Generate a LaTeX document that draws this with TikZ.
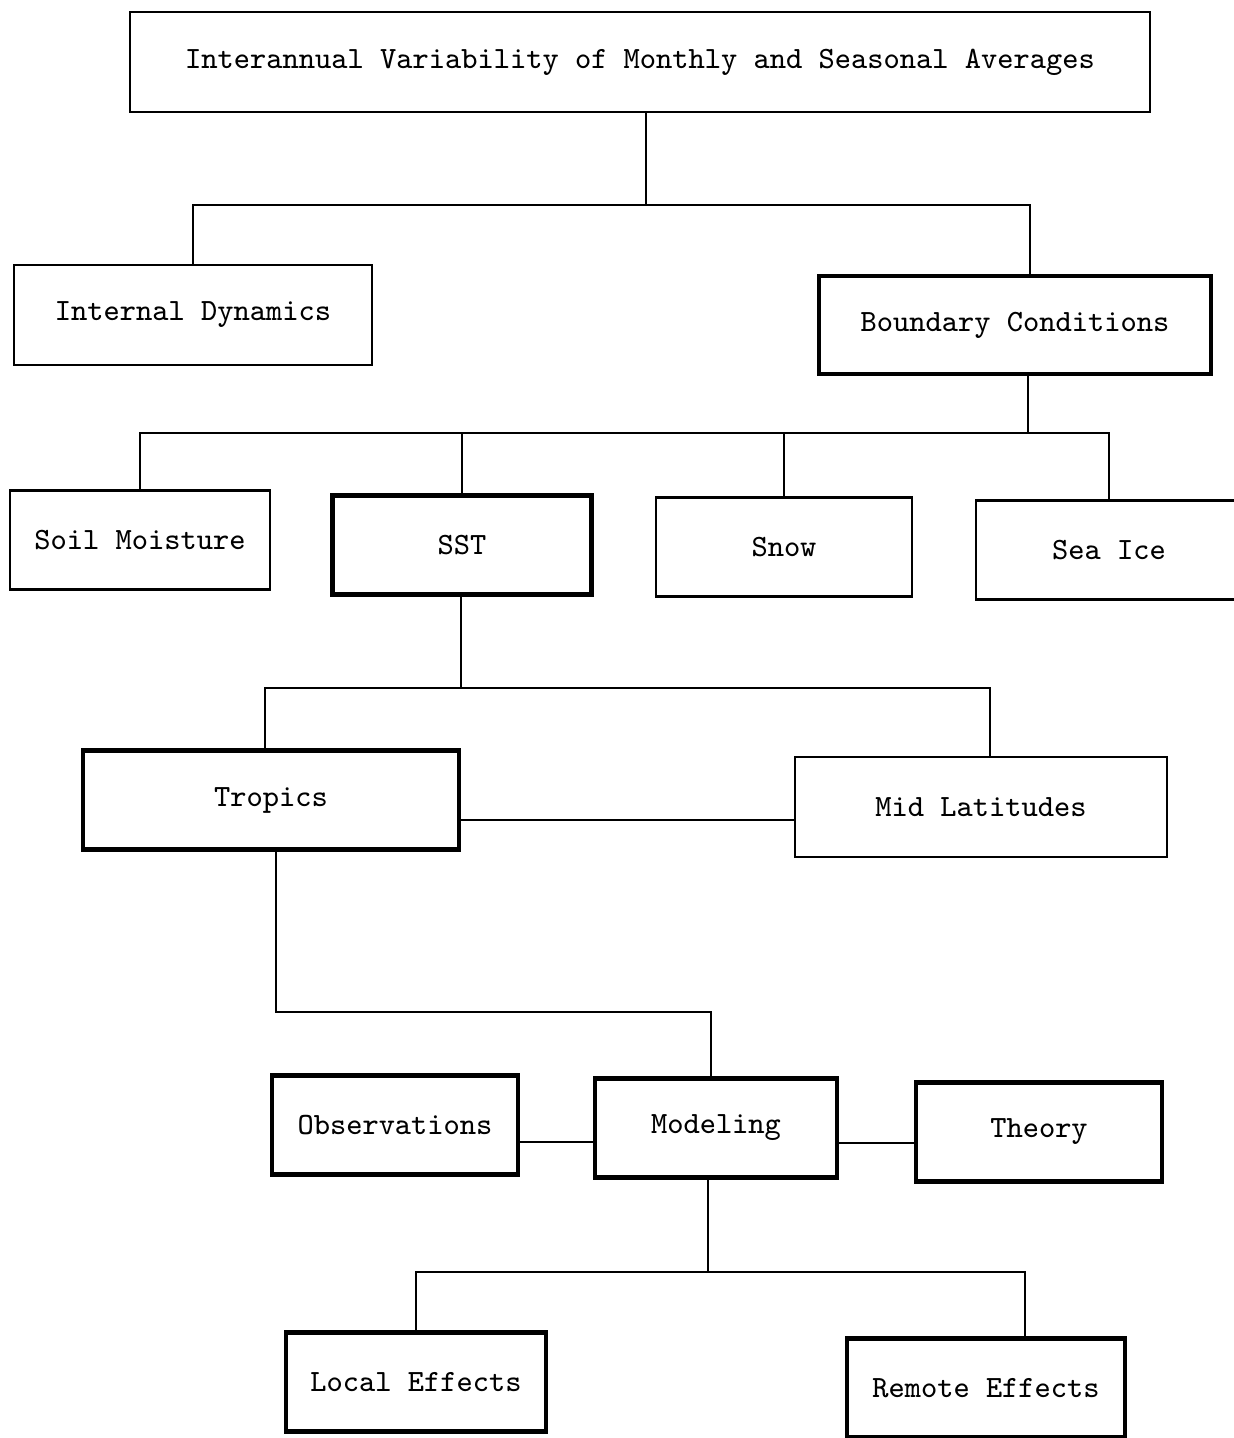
\documentclass[tikz,border=0pt]{standalone}
\usepackage{tikz}
\usepackage{xcolor}
\begin{document}
\begin{tikzpicture}[x=0.01cm,y=-0.01cm,
  box/.style={draw,line width=0.6pt,inner sep=0pt,font=\ttfamily\fontsize{8.8}{10}\selectfont},
  boldbox/.style={box,line width=1.2pt},
  link/.style={line width=0.6pt}]
\useasboundingbox (0,0) rectangle (1234,1438);
\node [box,minimum width=102mm,minimum height=10mm] (top) at (640,62) {Interannual Variability of Monthly and Seasonal Averages};
\node [box,minimum width=35.8mm,minimum height=10mm] (intdyn) at (193,315) {Internal Dynamics};
\node [boldbox,minimum width=39.1mm,minimum height=9.8mm] (bound) at (1015,325) {Boundary Conditions};
  \foreach \nm/\sty/\w/\px/\py/\txt in {soil/box/25.9/140/540/Soil Moisture,sst/boldbox/25.9/462/545/SST,snow/box/25.6/784/547/Snow,seaice/box/26.6/1109/550/Sea Ice}
  {  \node [\sty,minimum width=\w mm,minimum height=9.9mm] (\nm) at (\px,\py) {\txt};}
\node [boldbox,minimum width=37.6mm,minimum height=9.9mm] (tropics) at (271,800) {Tropics};
\node [box,minimum width=37.2mm,minimum height=10mm] (midlat) at (981,807) {Mid Latitudes};
  \foreach \nm/\w/\px/\py/\txt in {obs/24.6/395/1125/Observations,model/24.2/716/1128/Modeling,theory/24.6/1039/1132/Theory,local/26/416/1382/Local Effects,remote/27.8/986/1388/Remote Effects}
  {  \node [boldbox,minimum width=\w mm,minimum height=9.9mm] (\nm) at (\px,\py) {\txt};}
% links
\coordinate (j1) at (646,205);
\coordinate (j2) at (1028,433);
\coordinate (j3) at (461,688);
\coordinate (j4) at (711,1012);
\coordinate (j5) at (708,1272);
\draw [link] (top.south -| j1) -- (j1);
\draw [link] (intdyn.north) |- (j1) -| ([xshift=1.5mm]bound.north);
\draw [link] (bound.south -| j2) -- (j2);
\draw [link] (soil.north) |- (j2) -| (seaice.north);
\draw [link] (sst.north) -- (sst.north |- j2);
\draw [link] (snow.north) -- (snow.north |- j2);
\draw [link] (sst.south -| j3) -- (j3);
\draw [link] ([xshift=-0.6mm]tropics.north) |- (j3) -| ([xshift=0.9mm]midlat.north);
\draw [link] ([yshift=-2mm]tropics.east) -- ([yshift=-2mm]tropics.east -| midlat.west);
\draw [link] ([xshift=0.5mm]tropics.south) |- (j4) -- (model.north -| j4);
\draw [link] ([yshift=-1.7mm]obs.east) -- ([yshift=-1.7mm]obs.east -| model.west);
\draw [link] ([yshift=-1.5mm]model.east) -- ([yshift=-1.5mm]model.east -| theory.west);
\draw [link] (model.south -| j5) -- (j5);
\draw [link] (local.north) |- (j5) -| ([xshift=3.9mm]remote.north);
\end{tikzpicture}
\end{document}
